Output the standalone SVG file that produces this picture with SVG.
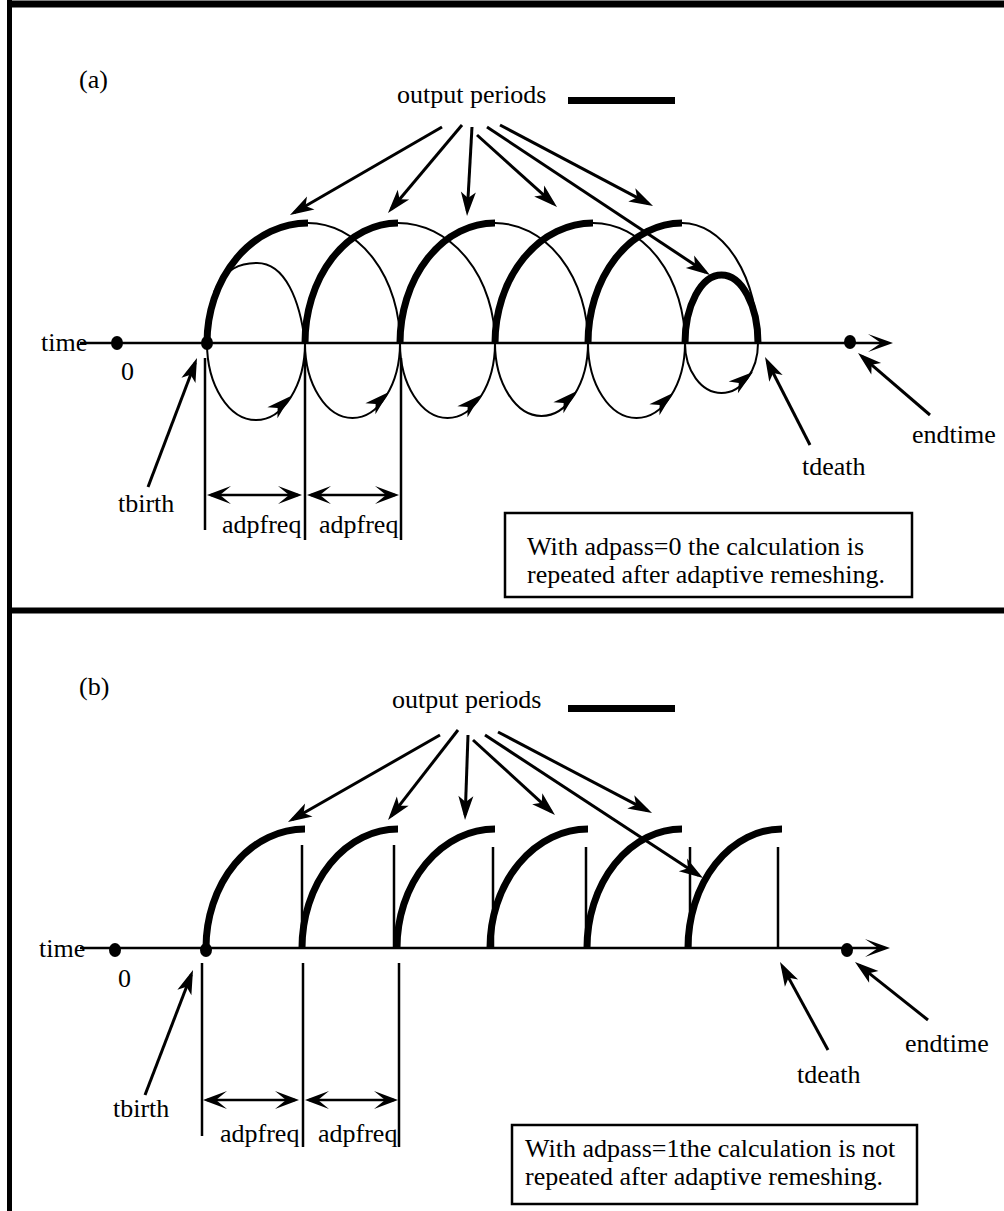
<svg xmlns="http://www.w3.org/2000/svg" xmlns:xlink="http://www.w3.org/1999/xlink" width="1004" height="1211" viewBox="0 0 1004 1211">
<style>
text{font-family:"Liberation Serif","Times New Roman",serif;font-size:26px;fill:#000}
.frame{stroke:#000;fill:none}
.axis{stroke:#000;stroke-width:2.5;fill:none}
.thin{stroke:#000;stroke-width:2;fill:none}
.thick{stroke:#000;stroke-width:7;fill:none}
.vl{stroke:#000;stroke-width:2.5;fill:none}
.lead{stroke:#000;stroke-width:3;fill:none}
.dim{stroke:#000;stroke-width:2.5;fill:none}
.box{stroke:#000;stroke-width:2.5;fill:#fff}
</style>
<defs>
<marker id="mLead" markerUnits="userSpaceOnUse" viewBox="-25 -10 32 20" markerWidth="32" markerHeight="20" refX="0" refY="0" orient="auto" overflow="visible">
<path d="M5,0 L-19,-7.5 L-13,0 L-19,7.5 Z" fill="#000"/>
</marker>
<marker id="mAxis" markerUnits="userSpaceOnUse" viewBox="-25 -10 32 20" markerWidth="32" markerHeight="20" refX="0" refY="0" orient="auto" overflow="visible">
<path d="M5,0 L-20,-9 L-7,0 L-20,9 Z" fill="#000"/>
</marker>
<marker id="mDim" markerUnits="userSpaceOnUse" viewBox="-25 -10 32 20" markerWidth="32" markerHeight="20" refX="0" refY="0" orient="auto-start-reverse" overflow="visible">
<path d="M4,0 L-20,-9 L-9,0 L-20,9 Z" fill="#000"/>
</marker>
<path id="ah" d="M0,0 L-25,-7.5 L-18,0 L-25,7.5 Z" fill="#000"/>
</defs>

<g id="frame">
<line class="frame" x1="9.5" y1="0" x2="9.5" y2="1211" stroke-width="5"/>
<line class="frame" x1="7" y1="4" x2="1004" y2="4" stroke-width="7"/>
<line class="frame" x1="7" y1="610.5" x2="1004" y2="610.5" stroke-width="6"/>
</g>

<!-- ===== Panel (a) ===== -->
<g id="panel-a">
<g id="a-label"><text x="79" y="88">(a)</text></g>
<g id="a-output-periods"><text x="397" y="103">output periods</text><rect x="568" y="97" width="107" height="7" fill="#000"/></g>
<g id="a-time-axis">
<text x="41" y="351">time</text>
<line class="axis" x1="80" y1="343" x2="888" y2="343" marker-end="url(#mAxis)"/>
</g>
<g id="a-zero"><ellipse cx="117" cy="343" rx="6" ry="7"/><text x="121" y="380">0</text></g>
<g id="a-tbirth"><ellipse cx="207" cy="343" rx="6" ry="7"/><text x="118" y="512">tbirth</text></g>
<g id="a-endtime"><ellipse cx="850" cy="342" rx="6" ry="7"/><text x="912" y="443">endtime</text></g>
<g id="a-tdeath"><text x="802" y="475">tdeath</text></g>
<g id="a-loops">
<path class="thick" d="M207,343 A101,120 0 0 1 308,223"/>
<path class="thick" d="M305,343 A93,120 0 0 1 398,223"/>
<path class="thick" d="M400,343 A95,120 0 0 1 495,223"/>
<path class="thick" d="M495,343 A98,120 0 0 1 593,223"/>
<path class="thick" d="M588,343 A94,120 0 0 1 682,223"/>
<path class="thick" d="M685,343 A36.5,68 0 0 1 758,343"/>
<path class="thin" d="M308,223 A92,120 0 0 1 400,343"/>
<path class="thin" d="M398,223 A97,120 0 0 1 495,343"/>
<path class="thin" d="M495,223 A93,120 0 0 1 588,343"/>
<path class="thin" d="M593,223 A92,120 0 0 1 685,343"/>
<path class="thin" d="M682,223 A76,120 0 0 1 758,343"/>
<path class="thin" d="M214,292 C226,268 240,263 257,263 C285,263 300,300 305,343"/>
<path class="thin" d="M207,343 A49,77 0 0 0 305,343"/>
<path class="thin" d="M305,343 A47.5,75 0 0 0 400,343"/>
<path class="thin" d="M400,343 A47.5,75 0 0 0 495,343"/>
<path class="thin" d="M495,343 A46.5,73 0 0 0 588,343"/>
<path class="thin" d="M588,343 A48.5,75 0 0 0 685,343"/>
<path class="thin" d="M685,343 A36.5,50 0 0 0 758,343"/>
<use xlink:href="#ah" href="#ah" transform="translate(291,396) rotate(-42)"/>
<use xlink:href="#ah" href="#ah" transform="translate(389,392) rotate(-42)"/>
<use xlink:href="#ah" href="#ah" transform="translate(481,395) rotate(-42)"/>
<use xlink:href="#ah" href="#ah" transform="translate(577,391) rotate(-42)"/>
<use xlink:href="#ah" href="#ah" transform="translate(673,393) rotate(-42)"/>
<use xlink:href="#ah" href="#ah" transform="translate(753,372) rotate(-38)"/>
</g>
<g id="a-intervals">
<line class="vl" x1="205" y1="358" x2="205" y2="530"/>
<line class="vl" x1="305" y1="358" x2="305" y2="540"/>
<line class="vl" x1="401" y1="358" x2="401" y2="540"/>
<text x="222" y="533">adpfreq</text>
<text x="319" y="533">adpfreq</text>
</g>
<g id="a-note">
<rect class="box" x="505" y="513" width="407" height="84"/>
<text x="527" y="555">With adpass=0 the calculation is</text>
<text x="527" y="583">repeated after adaptive remeshing.</text>
</g>
</g>

<!-- ===== Panel (b) ===== -->
<g id="panel-b">
<g id="b-label"><text x="79" y="695">(b)</text></g>
<g id="b-output-periods"><text x="392" y="708">output periods</text><rect x="568" y="705" width="107" height="7" fill="#000"/></g>
<g id="b-time-axis">
<text x="39" y="957">time</text>
<line class="axis" x1="80" y1="948" x2="885" y2="948" marker-end="url(#mAxis)"/>
</g>
<g id="b-zero"><ellipse cx="115" cy="950" rx="6" ry="7"/><text x="118" y="987">0</text></g>
<g id="b-tbirth"><ellipse cx="206" cy="950" rx="6" ry="7"/><text x="113" y="1117">tbirth</text></g>
<g id="b-endtime"><ellipse cx="847" cy="950" rx="6" ry="7"/><text x="905" y="1052">endtime</text></g>
<g id="b-tdeath"><text x="797" y="1083">tdeath</text></g>
<g id="b-periods">
<path class="thick" d="M206,948 A99,119 0 0 1 305,829"/>
<path class="thick" d="M302,948 A96,119 0 0 1 398,829"/>
<path class="thick" d="M397,948 A98,119 0 0 1 495,829"/>
<path class="thick" d="M490,948 A98,119 0 0 1 588,829"/>
<path class="thick" d="M587,948 A95,119 0 0 1 682,829"/>
<path class="thick" d="M688,948 A94,119 0 0 1 782,829"/>
<line class="vl" x1="302" y1="845" x2="302" y2="948"/>
<line class="vl" x1="394" y1="845" x2="394" y2="948"/>
<line class="vl" x1="493" y1="847" x2="493" y2="948"/>
<line class="vl" x1="586" y1="847" x2="586" y2="948"/>
<line class="vl" x1="690" y1="847" x2="690" y2="948"/>
<line class="vl" x1="778" y1="847" x2="778" y2="948"/>
</g>
<g id="b-intervals">
<line class="vl" x1="202" y1="963" x2="202" y2="1136"/>
<line class="vl" x1="303" y1="963" x2="303" y2="1147"/>
<line class="vl" x1="399" y1="963" x2="399" y2="1147"/>
<text x="220" y="1142">adpfreq</text>
<text x="318" y="1142">adpfreq</text>
</g>
<g id="b-note">
<rect class="box" x="512" y="1125" width="405" height="79"/>
<text x="525" y="1157">With adpass=1the calculation is not</text>
<text x="525" y="1185">repeated after adaptive remeshing.</text>
</g>
</g>

<!-- ===== Connectors ===== -->
<g id="connectors">
<line class="lead" x1="442" y1="127" x2="294.3" y2="212.5" marker-end="url(#mLead)"/>
<line class="lead" x1="462" y1="125" x2="391.2" y2="209.2" marker-end="url(#mLead)"/>
<line class="lead" x1="472" y1="127" x2="467.3" y2="211" marker-end="url(#mLead)"/>
<line class="lead" x1="477" y1="135" x2="553.3" y2="203.7" marker-end="url(#mLead)"/>
<line class="lead" x1="487" y1="127" x2="705.8" y2="272.2" marker-end="url(#mLead)"/>
<line class="lead" x1="500" y1="125" x2="648.6" y2="203.7" marker-end="url(#mLead)"/>
<line class="lead" x1="148" y1="487" x2="195.2" y2="362.7" marker-end="url(#mLead)"/>
<line class="lead" x1="810" y1="445" x2="767.3" y2="361.5" marker-end="url(#mLead)"/>
<line class="lead" x1="930" y1="415" x2="861.8" y2="356.3" marker-end="url(#mLead)"/>
<line class="dim" x1="211" y1="495" x2="298" y2="495" marker-start="url(#mDim)" marker-end="url(#mDim)"/>
<line class="dim" x1="311" y1="495" x2="395" y2="495" marker-start="url(#mDim)" marker-end="url(#mDim)"/>

<line class="lead" x1="440" y1="735" x2="292.3" y2="819.5" marker-end="url(#mLead)"/>
<line class="lead" x1="458" y1="730" x2="391.1" y2="816.1" marker-end="url(#mLead)"/>
<line class="lead" x1="468" y1="735" x2="465.2" y2="815" marker-end="url(#mLead)"/>
<line class="lead" x1="473" y1="740" x2="551.3" y2="811.6" marker-end="url(#mLead)"/>
<line class="lead" x1="485" y1="735" x2="698.8" y2="875.3" marker-end="url(#mLead)"/>
<line class="lead" x1="498" y1="732" x2="647.6" y2="810.7" marker-end="url(#mLead)"/>
<line class="lead" x1="145" y1="1095" x2="191.2" y2="974.7" marker-end="url(#mLead)"/>
<line class="lead" x1="828" y1="1050" x2="782.4" y2="966.4" marker-end="url(#mLead)"/>
<line class="lead" x1="928" y1="1020" x2="858.9" y2="965.1" marker-end="url(#mLead)"/>
<line class="dim" x1="207" y1="1100" x2="295" y2="1100" marker-start="url(#mDim)" marker-end="url(#mDim)"/>
<line class="dim" x1="309" y1="1100" x2="394" y2="1100" marker-start="url(#mDim)" marker-end="url(#mDim)"/>
</g>
</svg>
